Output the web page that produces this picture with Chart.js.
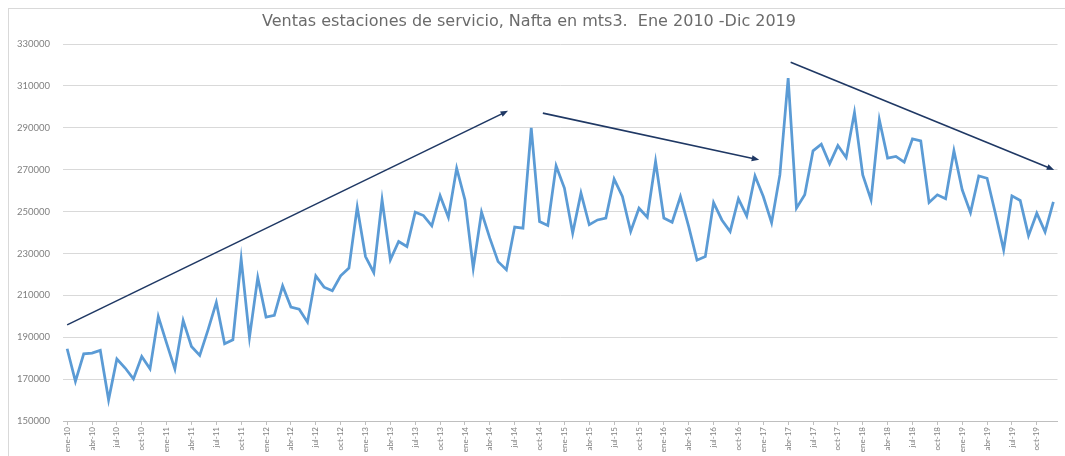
<!DOCTYPE html>
<html>
<head>
<meta charset="utf-8">
<script src="https://cdn.jsdelivr.net/npm/chart.js@4.4.0/dist/chart.umd.min.js"></script>
<style>
  html, body { margin: 0; padding: 0; background: #fff; }
  #wrap { position: relative; width: 1065px; height: 456px; }
  #frame { position: absolute; left: 8px; top: 8px; right: 0; bottom: 0; border-left: 1px solid #d9d9d9; border-top: 1px solid #d9d9d9; pointer-events: none; }
</style>
</head>
<body>
<div id="wrap">
  <canvas id="chart" width="1065" height="456"></canvas>
  <div id="frame"></div>
</div>
<script>
// ventas mensuales de nafta (m3), ene a dic de cada año
const ventas2010 = [184500, 168900, 182100, 182400, 183700, 160100, 179600, 175300, 170100, 180800, 174900, 199900];
const ventas2011 = [187200, 174800, 198000, 185600, 181300, 193500, 206600, 186900, 188800, 227300, 189900, 218500];
const ventas2012 = [199600, 200400, 214500, 204400, 203400, 197200, 219300, 213900, 212200, 219300, 223000, 252100];
const ventas2013 = [228500, 220900, 255600, 226900, 235700, 233300, 249700, 248100, 243200, 257600, 247300, 270700];
const ventas2014 = [255600, 223000, 249700, 237300, 226100, 222200, 242600, 242100, 290000, 245200, 243400, 271800];
const ventas2015 = [261200, 239700, 258800, 243700, 246000, 246900, 265500, 257200, 240500, 251600, 247300, 273900];
const ventas2016 = [246900, 244900, 257200, 242800, 226800, 228500, 254300, 246000, 240500, 256100, 247900, 267000];
const ventas2017 = [257200, 244700, 267500, 313700, 251600, 258000, 279000, 282200, 272800, 281500, 275800, 297300];
const ventas2018 = [267500, 255600, 293800, 275500, 276300, 273600, 284700, 283700, 254300, 258000, 256100, 279000];
const ventas2019 = [260400, 249500, 267000, 265900, 249200, 231700, 257500, 255300, 238500, 249200, 240300, 254600];

const years = ['10', '11', '12', '13', '14', '15', '16', '17', '18', '19'];
const monthNames = ['ene', 'feb', 'mar', 'abr', 'may', 'jun', 'jul', 'ago', 'sep', 'oct', 'nov', 'dic'];

// escala vertical
const yMin = 150000;
const yMax = 330000;
const yStep = 20000;

// flechas de tendencia: [indice de mes, m3]
const arrowStarts = [[0, 195900], [57.4, 297000], [87.3, 321300]];
const arrowEnds = [[53.2, 298100], [83.5, 274700], [119.1, 269900]];

const ventas = [].concat(ventas2010, ventas2011, ventas2012, ventas2013, ventas2014,
                         ventas2015, ventas2016, ventas2017, ventas2018, ventas2019);
const labels = [];
years.forEach(y => monthNames.forEach(m => labels.push(m + '-' + y)));

const fontFamily = 'Lato, "Liberation Sans", sans-serif';

const arrowPlugin = {
    id: 'arrows',
    afterDatasetsDraw(chart) {
        const { ctx, scales: { x, y } } = chart;
        ctx.save();
        ctx.strokeStyle = '#1f3864';
        ctx.fillStyle = '#1f3864';
        ctx.lineWidth = 1.6;
        arrowStarts.forEach((s, k) => {
            const e = arrowEnds[k];
            const x1 = x.getPixelForValue(s[0]), y1 = y.getPixelForValue(s[1]);
            const x2 = x.getPixelForValue(e[0]), y2 = y.getPixelForValue(e[1]);
            const ang = Math.atan2(y2 - y1, x2 - x1);
            const head = 8;
            ctx.beginPath();
            ctx.moveTo(x1, y1);
            ctx.lineTo(x2 - head * 0.8 * Math.cos(ang), y2 - head * 0.8 * Math.sin(ang));
            ctx.stroke();
            ctx.beginPath();
            ctx.moveTo(x2, y2);
            ctx.lineTo(x2 - head * Math.cos(ang - 0.38), y2 - head * Math.sin(ang - 0.38));
            ctx.lineTo(x2 - head * Math.cos(ang + 0.38), y2 - head * Math.sin(ang + 0.38));
            ctx.closePath();
            ctx.fill();
        });
        ctx.restore();
    }
};

const ctx = document.getElementById('chart').getContext('2d');
new Chart(ctx, {
    type: 'line',
    data: {
        labels: labels,
        datasets: [{
            label: 'Nafta',
            data: ventas,
            borderColor: '#5b9bd5',
            borderWidth: 2.75,
            pointRadius: 0,
            tension: 0,
            fill: false,
        }],
    },
    options: {
        responsive: false,
        animation: false,
        layout: { padding: { left: 0, right: 7, top: 0, bottom: 0 } },
        plugins: {
            legend: { display: false },
            tooltip: { enabled: false },
            title: {
                display: true,
                text: 'Ventas estaciones de servicio, Nafta en mts3.  Ene 2010 -Dic 2019',
                color: '#6b6b6b',
                font: { family: '"DejaVu Sans", sans-serif', size: 16, weight: 'normal' },
                padding: { top: 12.5, bottom: 12.3 },
            },
        },
        scales: {
            x: {
                type: 'category',
                offset: true,
                grid: {
                    display: true,
                    drawOnChartArea: false,
                    tickLength: 4,
                    color: c => (c.index % 3 === 0 ? '#bfbfbf' : 'rgba(0,0,0,0)'),
                },
                border: { color: '#bfbfbf' },
                ticks: {
                    autoSkip: false,
                    minRotation: 90,
                    maxRotation: 90,
                    padding: 2,
                    color: '#808080',
                    font: { family: fontFamily, size: 8 },
                    callback: (v, i) => (i % 3 === 0 ? labels[i] : ''),
                },
                afterFit: s => { s.height = 35; },
            },
            y: {
                min: yMin,
                max: yMax,
                grid: { color: '#d9d9d9', lineWidth: 1, drawTicks: false },
                border: { display: false },
                ticks: {
                    stepSize: yStep,
                    padding: 13,
                    color: '#808080',
                    font: { family: fontFamily, size: 9.5 },
                    callback: v => String(v),
                },
                afterFit: s => { s.width = 63; },
            },
        },
    },
    plugins: [arrowPlugin],
});
</script>
</body>
</html>
